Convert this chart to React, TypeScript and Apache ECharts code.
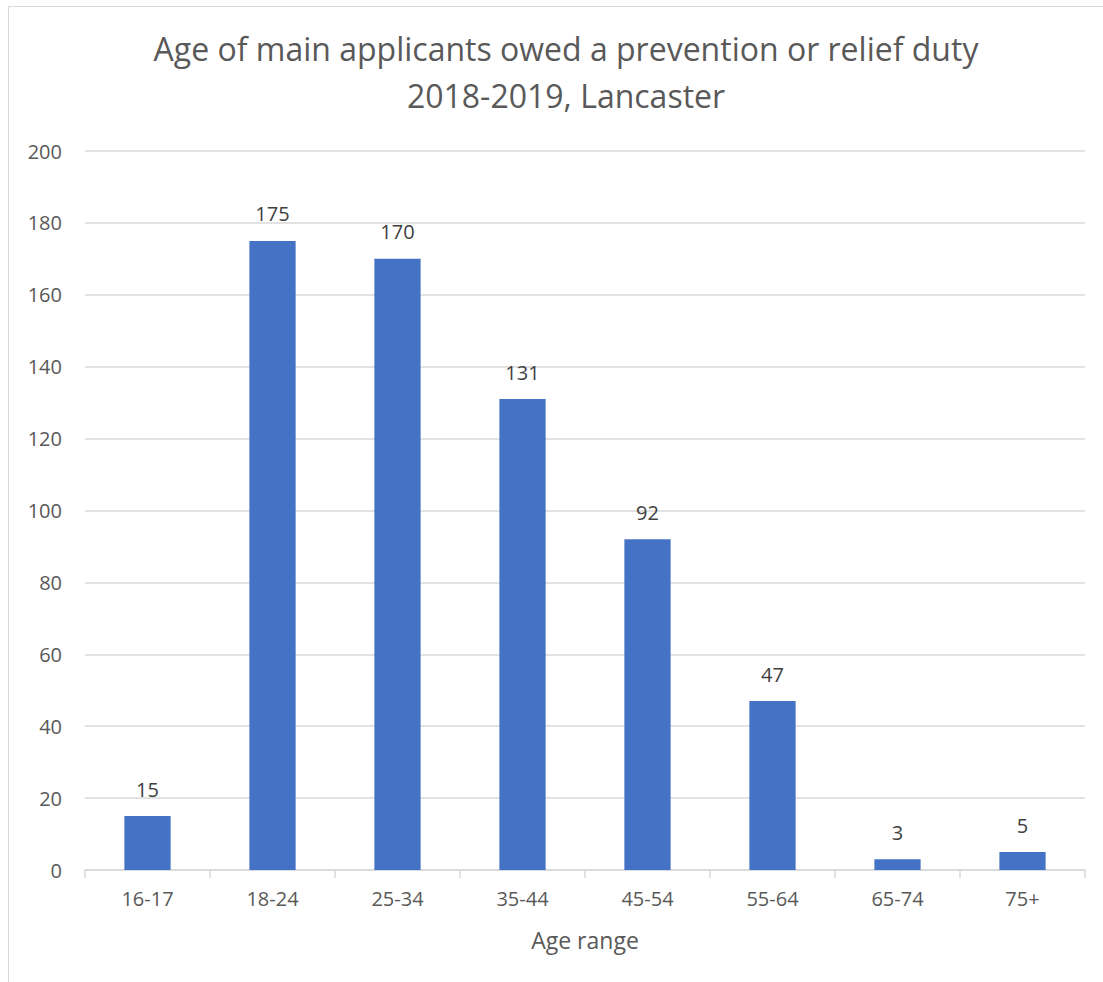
import React, { useEffect, useRef } from "react";
import * as echarts from "echarts";

const categories = ["16-17", "18-24", "25-34", "35-44", "45-54", "55-64", "65-74", "75+"];
const values = [15, 175, 170, 131, 92, 47, 3, 5];
const titleLines = ["Age of main applicants owed a prevention or relief duty", "2018-2019, Lancaster"];
const xAxisName = "Age range";

export default function App() {
  const ref = useRef<HTMLDivElement>(null);
  useEffect(() => {
    if (!ref.current) return;
    const chart = echarts.init(ref.current, null, { renderer: "svg" });
    const font = "'Open Sans', 'Liberation Sans', sans-serif";
    chart.setOption({
      animation: false,
      backgroundColor: "#ffffff",
      title: {
        text: titleLines.join("\n"),
        left: 561,
        textAlign: "center",
        top: 20,
        textStyle: {
          fontFamily: font,
          fontSize: 32,
          fontWeight: "normal",
          color: "#595959",
          lineHeight: 47,
        },
      },
      graphic: [
        {
          type: "rect",
          shape: { x: 8.5, y: 6.5, width: 1200, height: 1200 },
          style: { fill: "none", stroke: "#d9d9d9", lineWidth: 1 },
          silent: true,
        },
      ],
      grid: { left: 85, right: 18, top: 151, bottom: 112, containLabel: false },
      xAxis: {
        type: "category",
        data: categories,
        name: xAxisName,
        nameLocation: "middle",
        nameGap: 58,
        nameTextStyle: { fontFamily: font, fontSize: 23, color: "#595959" },
        axisLine: { show: true, lineStyle: { color: "#d9d9d9", width: 1.5 } },
        axisTick: { show: true, alignWithLabel: false, length: 8, lineStyle: { color: "#d9d9d9", width: 1.5 } },
        axisLabel: { fontFamily: font, fontSize: 20, color: "#595959", margin: 18 },
      },
      yAxis: {
        type: "value",
        min: 0,
        max: 200,
        interval: 20,
        axisLine: { show: false },
        axisTick: { show: false },
        splitLine: { lineStyle: { color: "#d9d9d9", width: 1.5 } },
        axisLabel: { fontFamily: font, fontSize: 20, color: "#595959", margin: 23 },
      },
      series: [
        {
          type: "bar",
          data: values,
          barWidth: "37%",
          itemStyle: { color: "#4472C4" },
          label: {
            show: true,
            position: "top",
            distance: 17,
            fontFamily: font,
            fontSize: 20,
            color: "#404040",
          },
        },
      ],
    });
    return () => chart.dispose();
  }, []);
  return (
    <div
      ref={ref}
      style={{ position: "fixed", left: 0, top: 0, width: 1103, height: 982 }}
    />
  );
}
